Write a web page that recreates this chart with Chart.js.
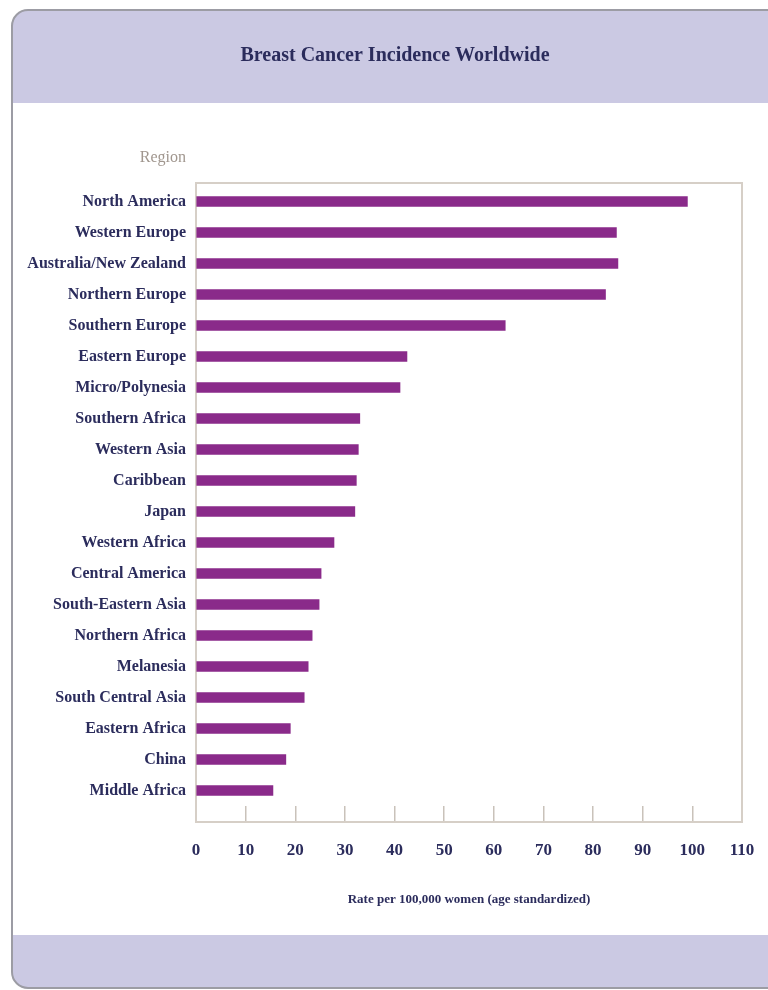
<!DOCTYPE html>
<html>
<head>
<meta charset="utf-8">
<title>Breast Cancer Incidence Worldwide</title>
<script src="https://cdn.jsdelivr.net/npm/chart.js@4/dist/chart.umd.min.js"></script>
<style>
  html, body { margin: 0; padding: 0; background: #fff; }
  #wrap { position: relative; width: 768px; height: 990px; }
</style>
</head>
<body>
<div id="wrap"><canvas id="cancerChart" width="768" height="990"></canvas></div>
<script>
// chart data
const regions = [
  'North America', 'Western Europe', 'Australia/New Zealand', 'Northern Europe',
  'Southern Europe', 'Eastern Europe', 'Micro/Polynesia', 'Southern Africa',
  'Western Asia', 'Caribbean', 'Japan', 'Western Africa', 'Central America',
  'South-Eastern Asia', 'Northern Africa', 'Melanesia', 'South Central Asia',
  'Eastern Africa', 'China', 'Middle Africa'
];
const rates = [
  99.0, 84.7, 85.0, 82.5, 62.3, 42.5, 41.1, 33.0, 32.7, 32.3,
  32.0, 27.8, 25.2, 24.8, 23.4, 22.6, 21.8, 19.0, 18.1, 15.5
];
const rateTicks = [0, 10, 20, 30, 40, 50, 60, 70, 80, 90, 100, 110];

const chartTitle = 'Breast Cancer Incidence Worldwide';
const axisTitle = 'Rate per 100,000 women (age standardized)';

const navy = '#2b2c5c';
const serif = "'Liberation Serif', 'DejaVu Serif', serif";

// card, header/footer bands, title, "Region" and the plot frame
const decorPlugin = {
  id: 'decor',
  beforeDraw(chart) {
    const ctx = chart.ctx;
    ctx.save();
    // card
    const x = 12, y = 10, w = 770, h = 978, r = 16;
    ctx.beginPath();
    ctx.roundRect(x, y, w, h, r);
    ctx.fillStyle = '#ffffff';
    ctx.fill();
    ctx.save();
    ctx.clip();
    ctx.fillStyle = '#cbc9e3';
    ctx.fillRect(x, y, w, 93);
    ctx.fillRect(x, 935, w, 60);
    ctx.restore();
    ctx.lineWidth = 2;
    ctx.strokeStyle = '#9c9ca4';
    ctx.stroke();

    // title
    ctx.fillStyle = navy;
    ctx.font = 'bold 20px ' + serif;
    ctx.textAlign = 'center';
    ctx.textBaseline = 'middle';
    ctx.fillText(chartTitle, 395, 56);

    // y axis caption
    ctx.fillStyle = '#a0968e';
    ctx.font = '16px ' + serif;
    ctx.textAlign = 'right';
    ctx.fillText('Region', chart.chartArea.left - 10, 158);
    ctx.restore();
  },
  beforeDatasetsDraw(chart) {
    const { left, right, top, bottom } = chart.chartArea;
    const ctx = chart.ctx;
    ctx.save();
    ctx.strokeStyle = '#d6cfc7';
    ctx.lineWidth = 2;
    ctx.strokeRect(left, top - 3, right - left, bottom + 16 - (top - 3));
    ctx.restore();
  }
};

document.addEventListener('DOMContentLoaded', () => {
  const ctx = document.getElementById('cancerChart');
  new Chart(ctx, {
    type: 'bar',
    data: {
      labels: regions,
      datasets: [{
        label: 'Rate per 100,000 women',
        data: rates,
        backgroundColor: '#8a2a8a',
        borderWidth: 0,
        barThickness: 10
      }]
    },
    options: {
      indexAxis: 'y',
      responsive: false,
      animation: false,
      layout: { padding: { top: 186, left: 0, right: 26, bottom: 0 } },
      plugins: {
        legend: { display: false },
        tooltip: { enabled: false },
        title: { display: false }
      },
      scales: {
        x: {
          min: 0,
          max: 110,
          afterBuildTicks: (scale) => { scale.ticks = rateTicks.map(v => ({ value: v })); },
          afterFit: (scale) => {
            scale.height = 184;
            scale.paddingLeft = 0;
            scale.paddingRight = 0;
          },
          grid: {
            drawOnChartArea: false,
            drawTicks: true,
            tickLength: 16,
            color: '#c9c2ba',
            lineWidth: 1.5
          },
          border: { display: false },
          ticks: {
            color: navy,
            padding: 18,
            maxRotation: 0,
            autoSkip: false,
            font: { family: serif, size: 17, weight: 'bold' }
          },
          title: {
            display: true,
            text: axisTitle,
            color: navy,
            font: { family: serif, size: 13, weight: 'bold' },
            padding: { top: 0, bottom: 83 }
          }
        },
        y: {
          afterFit: (scale) => { scale.width = 196; },
          grid: { display: false, drawTicks: false },
          border: { display: false },
          ticks: {
            color: navy,
            padding: 10,
            autoSkip: false,
            font: { family: serif, size: 16, weight: 'bold' }
          }
        }
      }
    },
    plugins: [decorPlugin]
  });
});
</script>
</body>
</html>
